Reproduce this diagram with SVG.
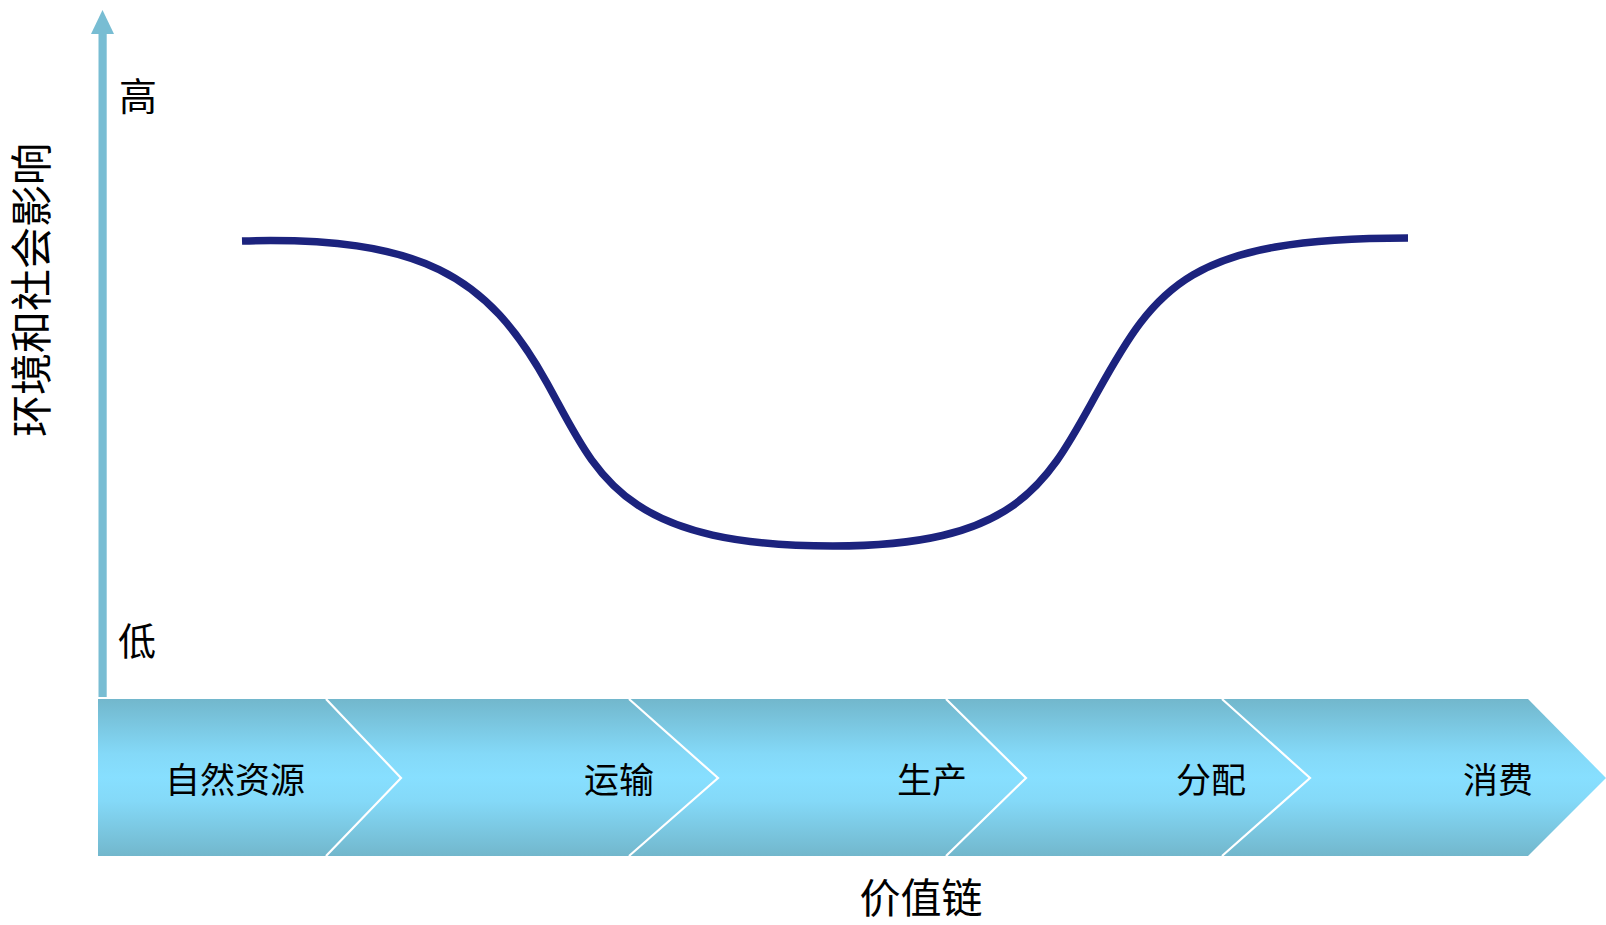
<svg xmlns="http://www.w3.org/2000/svg" width="1606" height="925" viewBox="0 0 1606 925">
<defs>
<linearGradient id="barGrad" x1="0" y1="0" x2="0" y2="1">
<stop offset="0" stop-color="#72B7CC"/>
<stop offset="0.35" stop-color="#84D9F8"/>
<stop offset="0.5" stop-color="#87DFFF"/>
<stop offset="0.65" stop-color="#84D9F8"/>
<stop offset="1" stop-color="#72B7CC"/>
</linearGradient>
</defs>
<style>
.lbl{font-family:"Noto Sans CJK SC","Noto Sans",sans-serif;fill:#000;text-anchor:middle}
.sep{fill:none;stroke:#FFFFFF;stroke-width:2.2}
.curve{fill:none;stroke:#1C237E;stroke-width:7.5;stroke-linecap:butt}
</style>
<rect width="1606" height="925" fill="#FFFFFF"/>
<g id="axis">
<rect x="98.5" y="32" width="8.2" height="665" fill="#78BDD3"/>
<polygon points="102.5,10 91,34 114,34" fill="#78BDD3"/>
<text class="lbl" x="138" y="110" font-size="38">高</text>
<text class="lbl" x="137" y="655" font-size="38">低</text>
<text class="lbl" font-size="42" transform="translate(47,290) rotate(-90)">环境和社会影响</text>
</g>
<g id="value-chain">
<polygon points="98,699 1528,699 1606,778 1528,856 98,856" fill="url(#barGrad)"/>
</g>
<g id="connectors">
<polyline class="sep" points="326,699 401,778 326,856"/>
<polyline class="sep" points="629,699 718,778 629,856"/>
<polyline class="sep" points="946,699 1026,778 946,856"/>
<polyline class="sep" points="1222,699 1310,778 1222,856"/>
</g>
<g id="stage-natural-resources"><text class="lbl" x="235" y="793" font-size="35">自然资源</text></g>
<g id="stage-transport"><text class="lbl" x="619" y="793" font-size="35">运输</text></g>
<g id="stage-production"><text class="lbl" x="932" y="793" font-size="35">生产</text></g>
<g id="stage-distribution"><text class="lbl" x="1211" y="793" font-size="35">分配</text></g>
<g id="stage-consumption"><text class="lbl" x="1498" y="793" font-size="35">消费</text></g>
<g id="impact-curve">
<path class="curve" d="M242,241 C421,236 487,275 547,383 C597,473 618,546 833,546 C1019,546 1047,483 1097,393 C1157,285 1189,238 1408,238"/>
</g>
<g id="x-label"><text class="lbl" x="921" y="913" font-size="41">价值链</text></g>
</svg>
